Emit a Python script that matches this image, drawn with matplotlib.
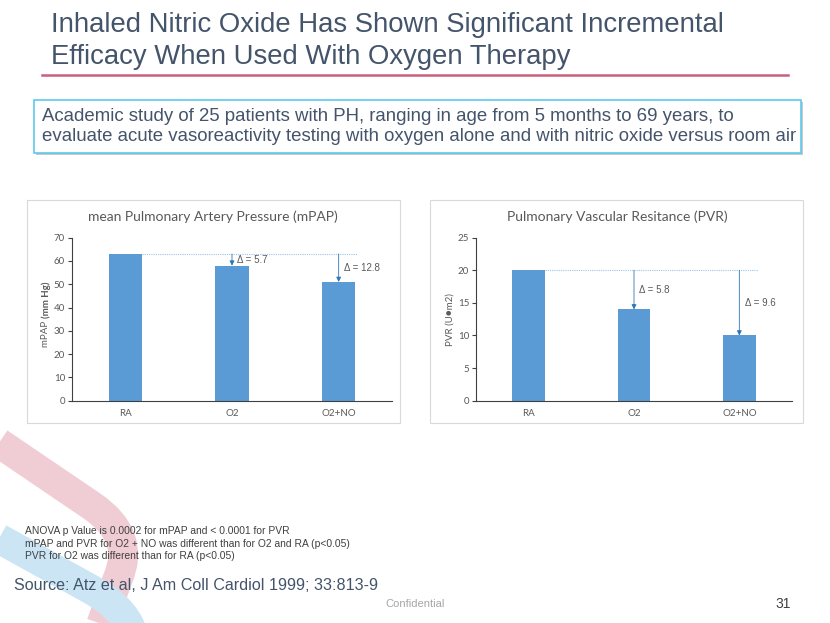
import matplotlib
matplotlib.use("Agg")
import matplotlib.pyplot as plt
from matplotlib.lines import Line2D
from matplotlib.patches import Rectangle, PathPatch
from matplotlib.path import Path

# ---- data ----
categories = ["RA", "O2", "O2+NO"]
mpap_values = [63, 58, 51]
mpap_deltas = ["Δ = 5.7", "Δ = 12.8"]
pvr_values = [20, 14, 10]
pvr_deltas = ["Δ = 5.8", "Δ = 9.6"]

title_lines = [
    "Inhaled Nitric Oxide Has Shown Significant Incremental",
    "Efficacy When Used With Oxygen Therapy",
]
box_lines = [
    "Academic study of 25 patients with PH, ranging in age from 5 months to 69 years, to",
    "evaluate acute vasoreactivity testing with oxygen alone and with nitric oxide versus room air",
]
note_lines = [
    "ANOVA p Value is 0.0002 for mPAP and < 0.0001 for PVR",
    "mPAP and PVR for O2 + NO was different than for O2 and RA (p<0.05)",
    "PVR for O2 was different than for RA (p<0.05)",
]
source_text = "Source: Atz et al, J Am Coll Cardiol 1999; 33:813-9"

W, H = 830, 623
BAR = "#5b9bd5"
REF = "#9dc3e6"
ARROW = "#2e75b6"
GREY = "#595959"
SLATE = "#44546a"
SANS = ["Liberation Sans", "DejaVu Sans"]
CHART = ["Lato", "DejaVu Sans"]

fig = plt.figure(figsize=(W / 100, H / 100), dpi=100)
fig.patch.set_facecolor("white")


def fx(x):
    return x / W


def fy(y):
    return 1 - y / H


def ribbon(pts, col):
    verts = [(fx(px), fy(py)) for px, py in pts]
    codes = [Path.MOVETO, Path.LINETO, Path.CURVE3, Path.CURVE3, Path.LINETO]
    fig.add_artist(PathPatch(Path(verts, codes), transform=fig.transFigure,
                             facecolor="none", edgecolor=col, lw=21.6,
                             capstyle="butt", joinstyle="round", zorder=0))


# decorative ribbons in the lower left corner
ribbon([(-20, 430), (92, 506), (136, 536), (118, 578), (92, 650)], "#f0cdd4")
ribbon([(-20, 528), (92, 590), (130, 612), (134, 640), (136, 660)], "#cbe5f4")

# title + rule
for i, line in enumerate(title_lines):
    fig.text(fx(51), fy(25.5 + i * 31.5), line, fontsize=19.8, color=SLATE,
             family=SANS, va="center", ha="left")
fig.add_artist(Line2D([fx(42), fx(788)], [fy(75), fy(75)], transform=fig.transFigure,
                      color="#c9607c", lw=1.8))

# info box with shadow
fig.add_artist(Rectangle((fx(36), fy(155)), fx(801) - fx(34), fy(100) - fy(153),
                         transform=fig.transFigure, facecolor="#c8c8c8",
                         edgecolor="none", zorder=1))
fig.add_artist(Rectangle((fx(34), fy(153)), fx(801) - fx(34), fy(100) - fy(153),
                         transform=fig.transFigure, facecolor="white",
                         edgecolor="#5cc8ee", lw=1.2, zorder=2))
for i, line in enumerate(box_lines):
    fig.text(fx(42), fy(116.5 + i * 20), line, fontsize=13.4, color=SLATE,
             family=SANS, va="center", ha="left", zorder=3)

# chart panels
for x0, x1 in [(27, 400), (430, 803)]:
    fig.add_artist(Rectangle((fx(x0), fy(423)), fx(x1) - fx(x0), fy(200) - fy(423),
                             transform=fig.transFigure, facecolor="white",
                             edgecolor="#d9d9d9", lw=0.8, zorder=1))


def draw_chart(rect, values, deltas, ymax, step, title, title_x):
    ax = fig.add_axes(rect, zorder=2)
    ax.patch.set_alpha(0)
    x = range(len(categories))
    w = 0.31
    ax.bar(x, values, width=w, color=BAR, zorder=2)
    base = values[0]
    ax.hlines(base, w / 2, len(values) - 1 + w / 2 + 0.02, colors=REF,
              linestyles=(0, (1, 1)), lw=0.8, zorder=1)
    for i, lab in zip(range(1, len(values)), deltas):
        ax.annotate("", xy=(i, values[i]), xytext=(i, base),
                    arrowprops=dict(arrowstyle="-|>", color=ARROW, lw=0.6,
                                    mutation_scale=7, shrinkA=0, shrinkB=0))
        ax.text(i + 0.05, (base + values[i]) / 2, lab, fontsize=7, color=GREY,
                family=SANS, va="center", ha="left")
    ax.set_xlim(-0.5, len(values) - 0.5)
    ax.set_ylim(0, ymax)
    ax.set_yticks(range(0, ymax + 1, step))
    ax.set_xticks(list(x))
    ax.set_xticklabels(categories)
    for s in ["top", "right"]:
        ax.spines[s].set_visible(False)
    for s in ["left", "bottom"]:
        ax.spines[s].set_color("#404040")
        ax.spines[s].set_linewidth(0.8)
    ax.tick_params(axis="y", length=3, width=0.8, color="#404040", labelsize=7,
                   labelcolor=GREY, pad=2)
    ax.tick_params(axis="x", length=0, labelsize=7, labelcolor=GREY, pad=6)
    for t in ax.get_xticklabels() + ax.get_yticklabels():
        t.set_family(CHART)
    fig.text(fx(title_x), fy(217), title, fontsize=10, color=GREY, family=CHART,
             ha="center", va="center", zorder=3)
    return ax


ax1 = draw_chart([fx(72), fy(400.7), fx(392) - fx(72), fy(237.7) - fy(400.7)],
                 mpap_values, mpap_deltas, 70, 10,
                 "mean Pulmonary Artery Pressure (mPAP)", 213)
fig.text(fx(46), fy(318), "mPAP ", rotation=90, fontsize=7, color=GREY,
         family=CHART, ha="center", va="top", zorder=3)
fig.text(fx(46), fy(318), "(mm Hg)", rotation=90, fontsize=7, color=GREY,
         family=CHART, weight="bold", ha="center", va="bottom", zorder=3)

ax2 = draw_chart([fx(476), fy(400.7), fx(792) - fx(476), fy(237.7) - fy(400.7)],
                 pvr_values, pvr_deltas, 25, 5,
                 "Pulmonary Vascular Resitance (PVR)", 617)
fig.text(fx(450), fy(320), "PVR (U\u25cfm2)", rotation=90, fontsize=7, color=GREY,
         family=CHART, ha="center", va="center", zorder=3)

# footnotes
for i, line in enumerate(note_lines):
    fig.text(fx(25), fy(531 + i * 12.7), line, fontsize=7.4, color="#404040",
             family=SANS, ha="left", va="center", zorder=3)
fig.text(fx(14), fy(585), source_text, fontsize=11.6, color=SLATE, family=SANS,
         ha="left", va="center", zorder=3)
fig.text(fx(415), fy(604), "Confidential", fontsize=8, color="#a6a6a6",
         family=SANS, ha="center", va="center")
fig.text(fx(783), fy(604), "31", fontsize=10, color="#404040", family=SANS,
         ha="center", va="center")

fig.savefig("out.png", dpi=100, facecolor="white")
